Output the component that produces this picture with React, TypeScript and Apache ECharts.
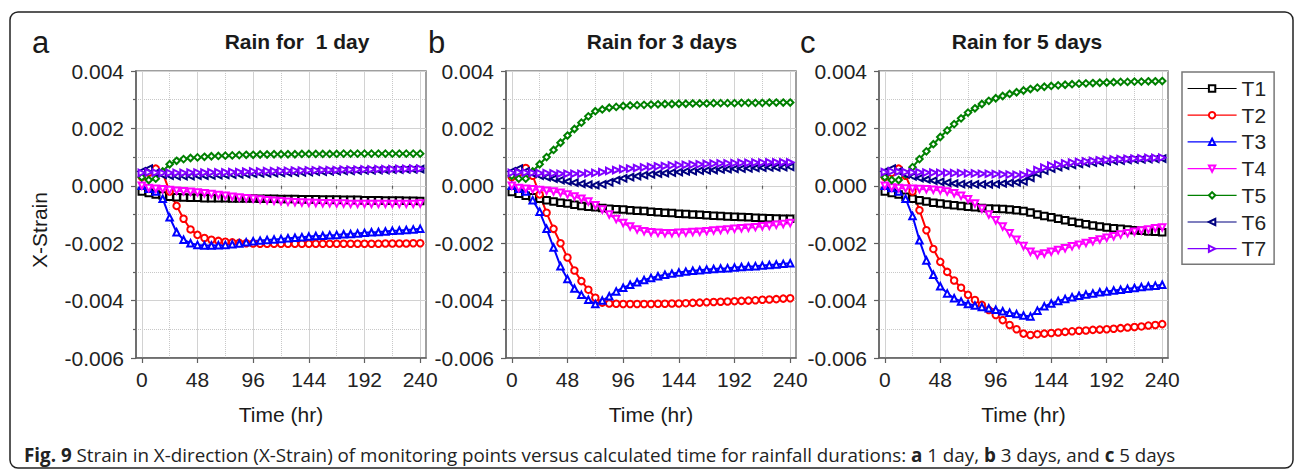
import React, { useEffect, useRef } from 'react';
import * as echarts from 'echarts';

const FONT = '"Liberation Sans", Arial, Helvetica, sans-serif';

// Time (hr) of the sampled points
const hours = [0, 6, 12, 18, 24, 30, 36, 42, 48, 54, 60, 66, 72, 78, 84, 90, 96, 102, 108, 114, 120, 126, 132, 138, 144, 150, 156, 162, 168, 174, 180, 186, 192, 198, 204, 210, 216, 222, 228, 234, 240];
const xMajorTicks = [0, 48, 96, 144, 192, 240];
const xMinorTicks = [24, 72, 120, 168, 216];

const seriesNames = ['T1', 'T2', 'T3', 'T4', 'T5', 'T6', 'T7'];
const seriesColors = ['#000000', '#ff0000', '#0000ff', '#ff00ff', '#008000', '#000080', '#8000ff'];
const seriesSymbols = ['emptyRect', 'emptyCircle', 'emptyTriangle', 'emptyTriangle', 'emptyDiamond', 'emptyTriangle', 'emptyTriangle'];
const seriesRotate = [0, 0, 0, 180, 0, 90, -90];

const panelTitles = ['Rain for  1 day', 'Rain for 3 days', 'Rain for 5 days'];
const panelLetters = ['a', 'b', 'c'];

// X-Strain values in units of 1e-3
// (a) Rain for 1 day
const t1a = [-0.20, -0.25, -0.30, -0.34, -0.38, -0.40, -0.41, -0.42, -0.42, -0.43,
  -0.43, -0.43, -0.43, -0.44, -0.44, -0.44, -0.44, -0.45, -0.45, -0.45,
  -0.46, -0.46, -0.46, -0.47, -0.47, -0.47, -0.48, -0.48, -0.48, -0.49,
  -0.49, -0.49, -0.50, -0.50, -0.50, -0.51, -0.51, -0.51, -0.52, -0.52,
  -0.53];
const t2a = [0.30, 0.45, 0.60, 0.45, -0.20, -0.70, -1.15, -1.52, -1.71, -1.82,
  -1.88, -1.92, -1.95, -1.97, -1.99, -2.00, -2.01, -2.02, -2.02, -2.02,
  -2.02, -2.02, -2.02, -2.02, -2.02, -2.02, -2.02, -2.02, -2.02, -2.02,
  -2.02, -2.02, -2.02, -2.02, -2.02, -2.01, -2.01, -2.01, -2.01, -2.00,
  -2.00];
const t3a = [0.00, -0.10, -0.20, -0.45, -1.10, -1.62, -1.88, -2.00, -2.06, -2.08,
  -2.08, -2.07, -2.06, -2.04, -2.01, -1.97, -1.93, -1.91, -1.89, -1.87,
  -1.85, -1.83, -1.81, -1.79, -1.77, -1.75, -1.74, -1.72, -1.71, -1.69,
  -1.68, -1.66, -1.64, -1.62, -1.61, -1.59, -1.57, -1.56, -1.54, -1.52,
  -1.50];
const t4a = [0.00, -0.08, -0.10, -0.12, -0.15, -0.17, -0.19, -0.21, -0.23, -0.26,
  -0.29, -0.32, -0.35, -0.38, -0.41, -0.43, -0.45, -0.48, -0.50, -0.52,
  -0.54, -0.56, -0.57, -0.58, -0.59, -0.60, -0.61, -0.61, -0.62, -0.62,
  -0.63, -0.63, -0.63, -0.63, -0.63, -0.63, -0.63, -0.63, -0.63, -0.63,
  -0.62];
const t5a = [0.30, 0.20, 0.25, 0.50, 0.75, 0.87, 0.93, 0.97, 0.99, 1.01,
  1.03, 1.04, 1.05, 1.06, 1.07, 1.08, 1.08, 1.09, 1.09, 1.10,
  1.10, 1.10, 1.10, 1.11, 1.11, 1.11, 1.11, 1.11, 1.11, 1.12,
  1.12, 1.12, 1.12, 1.12, 1.12, 1.12, 1.12, 1.12, 1.12, 1.12,
  1.12];
const t6a = [0.50, 0.60, 0.45, 0.38, 0.35, 0.34, 0.34, 0.34, 0.35, 0.35,
  0.36, 0.37, 0.38, 0.39, 0.40, 0.41, 0.42, 0.43, 0.43, 0.44,
  0.45, 0.46, 0.46, 0.47, 0.48, 0.49, 0.49, 0.50, 0.51, 0.52,
  0.52, 0.53, 0.54, 0.54, 0.55, 0.55, 0.56, 0.56, 0.57, 0.57,
  0.58];
const t7a = [0.45, 0.47, 0.46, 0.45, 0.45, 0.45, 0.45, 0.46, 0.46, 0.46,
  0.47, 0.47, 0.47, 0.48, 0.48, 0.49, 0.50, 0.50, 0.51, 0.51,
  0.52, 0.52, 0.53, 0.53, 0.54, 0.54, 0.55, 0.55, 0.55, 0.56,
  0.56, 0.56, 0.57, 0.57, 0.58, 0.58, 0.58, 0.59, 0.59, 0.60,
  0.60];

// (b) Rain for 3 days
const t1b = [-0.22, -0.28, -0.35, -0.40, -0.45, -0.50, -0.55, -0.59, -0.62, -0.66,
  -0.70, -0.73, -0.75, -0.77, -0.80, -0.82, -0.83, -0.85, -0.87, -0.88,
  -0.90, -0.92, -0.94, -0.95, -0.97, -0.98, -1.00, -1.01, -1.03, -1.04,
  -1.05, -1.07, -1.08, -1.09, -1.10, -1.11, -1.12, -1.13, -1.14, -1.15,
  -1.15];
const t2b = [0.30, 0.45, 0.62, 0.35, -0.30, -0.94, -1.50, -2.00, -2.50, -2.95,
  -3.32, -3.62, -3.90, -4.07, -4.10, -4.11, -4.12, -4.12, -4.12, -4.12,
  -4.12, -4.11, -4.11, -4.10, -4.10, -4.09, -4.08, -4.07, -4.06, -4.05,
  -4.04, -4.03, -4.02, -4.01, -4.00, -3.99, -3.97, -3.96, -3.95, -3.93,
  -3.92];
const t3b = [0.00, -0.10, -0.20, -0.50, -0.90, -1.50, -2.15, -2.80, -3.25, -3.58,
  -3.80, -3.97, -4.12, -4.00, -3.85, -3.68, -3.55, -3.45, -3.36, -3.28,
  -3.21, -3.15, -3.10, -3.06, -3.02, -2.99, -2.96, -2.94, -2.92, -2.90,
  -2.88, -2.87, -2.85, -2.83, -2.81, -2.80, -2.78, -2.76, -2.74, -2.72,
  -2.70];
const t4b = [0.00, -0.08, -0.10, -0.12, -0.15, -0.17, -0.20, -0.24, -0.30, -0.37,
  -0.45, -0.55, -0.68, -0.83, -1.00, -1.16, -1.30, -1.42, -1.52, -1.58,
  -1.62, -1.64, -1.65, -1.65, -1.64, -1.63, -1.61, -1.60, -1.58, -1.56,
  -1.54, -1.52, -1.50, -1.48, -1.46, -1.44, -1.41, -1.39, -1.36, -1.33,
  -1.30];
const t5b = [0.35, 0.25, 0.25, 0.50, 0.75, 1.00, 1.25, 1.50, 1.75, 1.98,
  2.20, 2.42, 2.60, 2.66, 2.72, 2.75, 2.78, 2.80, 2.81, 2.82,
  2.83, 2.84, 2.85, 2.85, 2.86, 2.86, 2.87, 2.87, 2.87, 2.88,
  2.88, 2.88, 2.88, 2.89, 2.89, 2.89, 2.89, 2.90, 2.90, 2.90,
  2.90];
const t6b = [0.50, 0.60, 0.50, 0.42, 0.35, 0.30, 0.25, 0.20, 0.15, 0.11,
  0.07, 0.04, 0.02, 0.05, 0.12, 0.20, 0.26, 0.30, 0.34, 0.37,
  0.40, 0.42, 0.44, 0.46, 0.48, 0.50, 0.51, 0.53, 0.54, 0.55,
  0.57, 0.58, 0.59, 0.60, 0.61, 0.62, 0.63, 0.64, 0.64, 0.65,
  0.66];
const t7b = [0.45, 0.47, 0.46, 0.45, 0.44, 0.44, 0.43, 0.42, 0.42, 0.42,
  0.42, 0.43, 0.45, 0.48, 0.52, 0.55, 0.58, 0.60, 0.62, 0.64,
  0.66, 0.68, 0.69, 0.71, 0.72, 0.73, 0.74, 0.75, 0.76, 0.77,
  0.78, 0.78, 0.79, 0.80, 0.80, 0.81, 0.81, 0.82, 0.82, 0.82,
  0.82];

// (c) Rain for 5 days
const t1c = [-0.20, -0.25, -0.30, -0.38, -0.45, -0.50, -0.55, -0.59, -0.62, -0.65,
  -0.68, -0.70, -0.73, -0.75, -0.77, -0.79, -0.80, -0.81, -0.83, -0.85,
  -0.88, -0.93, -1.00, -1.05, -1.10, -1.15, -1.20, -1.25, -1.30, -1.34,
  -1.38, -1.42, -1.45, -1.48, -1.50, -1.52, -1.55, -1.57, -1.59, -1.60,
  -1.62];
const t2c = [0.30, 0.45, 0.60, 0.35, -0.20, -0.85, -1.55, -2.20, -2.65, -3.00,
  -3.30, -3.55, -3.80, -3.98, -4.15, -4.33, -4.50, -4.68, -4.85, -5.00,
  -5.15, -5.20, -5.17, -5.15, -5.13, -5.11, -5.09, -5.07, -5.05, -5.04,
  -5.02, -5.01, -5.00, -4.98, -4.96, -4.94, -4.92, -4.90, -4.87, -4.85,
  -4.82];
const t3c = [0.00, -0.08, -0.20, -0.45, -1.05, -1.90, -2.60, -3.10, -3.50, -3.75,
  -3.92, -4.03, -4.12, -4.17, -4.22, -4.27, -4.32, -4.37, -4.42, -4.47,
  -4.52, -4.55, -4.35, -4.20, -4.10, -4.01, -3.94, -3.88, -3.83, -3.79,
  -3.75, -3.71, -3.68, -3.65, -3.62, -3.59, -3.56, -3.53, -3.50, -3.48,
  -3.45];
const t4c = [0.00, -0.06, -0.08, -0.09, -0.10, -0.11, -0.12, -0.14, -0.16, -0.20,
  -0.26, -0.35, -0.47, -0.62, -0.80, -1.00, -1.20, -1.42, -1.65, -1.88,
  -2.10, -2.30, -2.40, -2.36, -2.30, -2.24, -2.18, -2.11, -2.05, -1.99,
  -1.93, -1.87, -1.81, -1.76, -1.70, -1.65, -1.60, -1.56, -1.52, -1.48,
  -1.45];
const t5c = [0.30, 0.20, 0.20, 0.40, 0.65, 0.93, 1.20, 1.45, 1.70, 1.93,
  2.15, 2.35, 2.55, 2.70, 2.85, 2.96, 3.05, 3.13, 3.20, 3.26,
  3.32, 3.37, 3.42, 3.45, 3.48, 3.50, 3.52, 3.54, 3.56, 3.57,
  3.58, 3.59, 3.60, 3.61, 3.62, 3.62, 3.63, 3.63, 3.64, 3.64,
  3.65];
const t6c = [0.50, 0.60, 0.50, 0.40, 0.33, 0.27, 0.22, 0.18, 0.14, 0.11,
  0.08, 0.06, 0.05, 0.05, 0.05, 0.05, 0.06, 0.08, 0.10, 0.12,
  0.15, 0.28, 0.42, 0.53, 0.60, 0.65, 0.70, 0.73, 0.76, 0.79,
  0.81, 0.83, 0.85, 0.87, 0.88, 0.90, 0.91, 0.92, 0.93, 0.94,
  0.95];
const t7c = [0.48, 0.50, 0.49, 0.48, 0.47, 0.47, 0.46, 0.46, 0.45, 0.45,
  0.44, 0.44, 0.43, 0.43, 0.42, 0.42, 0.41, 0.40, 0.39, 0.38,
  0.38, 0.45, 0.55, 0.63, 0.70, 0.74, 0.78, 0.81, 0.83, 0.85,
  0.87, 0.89, 0.90, 0.92, 0.93, 0.94, 0.95, 0.96, 0.97, 0.97,
  0.98];

const panelData = [
  [t1a, t2a, t3a, t4a, t5a, t6a, t7a],
  [t1b, t2b, t3b, t4b, t5b, t6b, t7b],
  [t1c, t2c, t3c, t4c, t5c, t6c, t7c],
];

const caption = '{b|Fig. 9} Strain in X-direction (X-Strain) of monitoring points versus calculated time for rainfall durations: {b|a} 1 day, {b|b} 3 days, and {b|c} 5 days';

// layout (pixels)
const gridBoxes = [
  { left: 136, width: 290 },
  { left: 506, width: 290 },
  { left: 879, width: 289 },
];
const titleCenters = [297, 662, 1027];
const letterLefts = [32, 428, 800];

function buildOption() {
  const grids: any[] = [];
  const xAxes: any[] = [];
  const yAxes: any[] = [];
  const series: any[] = [];
  const graphics: any[] = [];

  graphics.push({
    type: 'rect', z: -10, silent: true,
    shape: { x: 10, y: 12, width: 1283, height: 456, r: 8 },
    style: { fill: 'none', stroke: '#222', lineWidth: 1.5 },
  });

  gridBoxes.forEach((g, i) => {
    grids.push({
      left: g.left, top: 71, width: g.width, height: 287,
      show: true, borderColor: '#808080', borderWidth: 1.5, backgroundColor: '#fff',
    });
    xAxes.push({
      type: 'value', gridIndex: i, min: -5, max: 245, position: 'bottom',
      name: 'Time (hr)', nameLocation: 'middle', nameGap: 46,
      nameTextStyle: { fontSize: 21, color: '#1a1a1a', fontFamily: FONT },
      axisLine: { show: true, onZero: false, lineStyle: { color: '#606060', width: 1.5 } },
      axisTick: { show: true, customValues: xMajorTicks, length: 5, lineStyle: { color: '#606060', width: 1.2 } },
      axisLabel: { show: true, customValues: xMajorTicks, fontSize: 21, color: '#222', fontFamily: FONT, margin: 11 },
      splitLine: { show: true, lineStyle: { color: '#d2d2d2', width: 1 } },
    });
    xAxes.push({
      type: 'value', gridIndex: i, min: -5, max: 245, position: 'bottom',
      axisLine: { show: false },
      axisTick: { show: true, customValues: xMinorTicks, length: 3, lineStyle: { color: '#606060', width: 1.2 } },
      axisLabel: { show: false },
      splitLine: { show: true, lineStyle: { color: '#c8c8c8', width: 1, type: 'dotted' } },
    });
    yAxes.push({
      type: 'value', gridIndex: i, min: -0.006, max: 0.004, interval: 0.002,
      axisLine: { show: true, onZero: false, lineStyle: { color: '#606060', width: 1.5 } },
      axisTick: { show: true, length: 5, lineStyle: { color: '#606060', width: 1.2 } },
      minorTick: { show: true, splitNumber: 2, length: 3, lineStyle: { color: '#606060', width: 1.2 } },
      axisLabel: {
        fontSize: 21, color: '#222', fontFamily: FONT, margin: 12,
        formatter: (v: number) => (Math.abs(v) < 1e-9 ? '0.000' : v.toFixed(3)),
      },
      splitLine: { show: true, lineStyle: { color: '#d2d2d2', width: 1 } },
      minorSplitLine: { show: true, lineStyle: { color: '#c8c8c8', width: 1, type: 'dotted' } },
    });

    panelData[i].forEach((vals, j) => {
      series.push({
        type: 'line', name: seriesNames[j], xAxisIndex: 2 * i, yAxisIndex: i,
        data: hours.map((h, k) => [h, vals[k] / 1000]),
        symbol: seriesSymbols[j], symbolRotate: seriesRotate[j], symbolSize: 6.5,
        showSymbol: true, showAllSymbol: true, silent: true,
        lineStyle: { color: seriesColors[j], width: 2 },
        itemStyle: { color: seriesColors[j], borderWidth: 1.3 },
        emphasis: { disabled: true },
      });
    });

    graphics.push({
      type: 'text', x: titleCenters[i], y: 41, silent: true,
      style: { text: panelTitles[i], fontSize: 21, fontWeight: 'bold', fontFamily: FONT, fill: '#1a1a1a', align: 'center', verticalAlign: 'middle' },
    });
    graphics.push({
      type: 'text', x: letterLefts[i], y: 42, silent: true,
      style: { text: panelLetters[i], fontSize: 31, fontFamily: FONT, fill: '#1a1a1a', align: 'left', verticalAlign: 'middle' },
    });
  });

  graphics.push({
    type: 'text', x: 39, y: 230, rotation: Math.PI / 2, silent: true,
    style: { text: 'X-Strain', fontSize: 21, fontFamily: FONT, fill: '#1a1a1a', align: 'center', verticalAlign: 'middle' },
  });
  graphics.push({
    type: 'text', x: 24, y: 455, silent: true,
    style: {
      text: caption, fontSize: 18.8, fontFamily: '"Open Sans", sans-serif', fill: '#222',
      align: 'left', verticalAlign: 'middle',
      rich: { b: { fontWeight: 'bold', fontSize: 18.8, fontFamily: '"Open Sans", sans-serif', fill: '#222' } },
    },
  });

  return {
    animation: false,
    backgroundColor: '#fff',
    grid: grids,
    xAxis: xAxes,
    yAxis: yAxes,
    series,
    legend: {
      orient: 'vertical', left: 1182, top: 72, padding: [6, 8, 5, 5], itemGap: 5.7,
      itemWidth: 49, itemHeight: 8, borderColor: '#777', borderWidth: 1.5,
      lineStyle: { width: 1.2 },
      textStyle: { fontSize: 21, lineHeight: 21, color: '#222', fontFamily: FONT },
      data: seriesNames, selectedMode: false,
    },
    graphic: graphics,
  };
}

export default function App() {
  const ref = useRef<HTMLDivElement>(null);
  useEffect(() => {
    document.body.style.margin = '0';
    if (!ref.current) return;
    const chart = echarts.init(ref.current, null, { renderer: 'svg' });
    chart.setOption(buildOption() as any);
    return () => chart.dispose();
  }, []);
  return <div ref={ref} style={{ width: 1295, height: 470 }} />;
}
